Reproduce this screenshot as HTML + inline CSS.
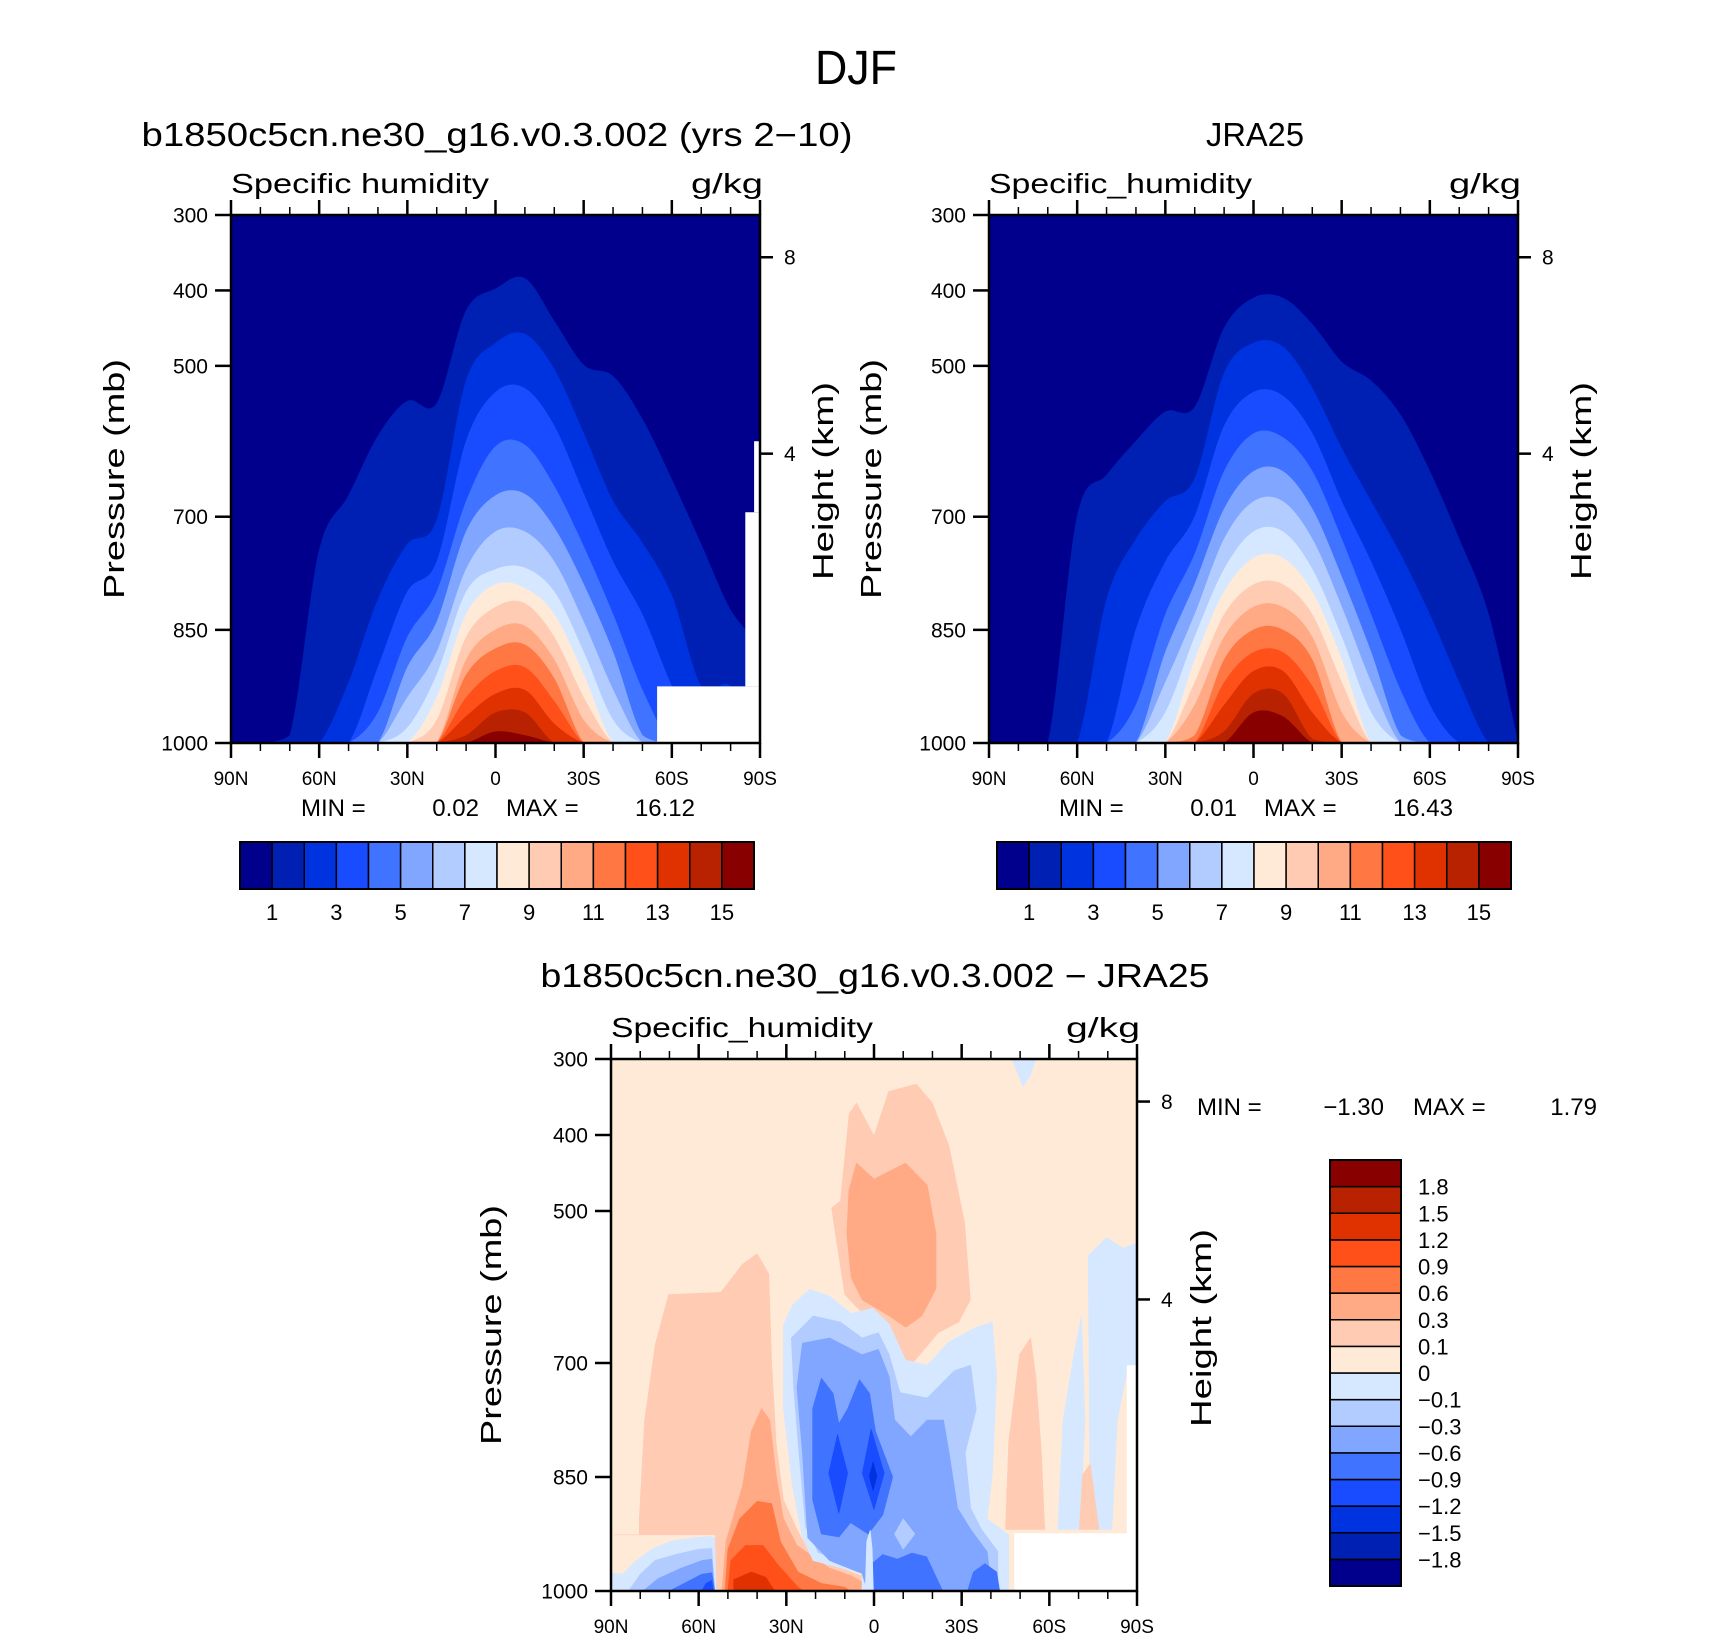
<!DOCTYPE html>
<html><head><meta charset="utf-8"><title>DJF Specific humidity</title>
<style>
html,body{margin:0;padding:0;background:#fff;}
svg{display:block;font-family:"Liberation Sans",sans-serif;}
</style></head>
<body>
<svg id="fig" width="1710" height="1636" viewBox="0 0 1710 1636" xmlns="http://www.w3.org/2000/svg">
<rect x="0" y="0" width="1710" height="1636" fill="#fff"/>
<text x="856" y="84" font-size="48" text-anchor="middle" textLength="82" lengthAdjust="spacingAndGlyphs">DJF</text>
<text x="497" y="146" font-size="33" text-anchor="middle" textLength="711" lengthAdjust="spacingAndGlyphs">b1850c5cn.ne30_g16.v0.3.002 (yrs 2−10)</text>
<text x="1255" y="146" font-size="33" text-anchor="middle" textLength="98" lengthAdjust="spacingAndGlyphs">JRA25</text>
<text x="875" y="987" font-size="33" text-anchor="middle" textLength="669" lengthAdjust="spacingAndGlyphs">b1850c5cn.ne30_g16.v0.3.002 − JRA25</text>
<g id="g-tl"></g>
<g id="g-tr"></g>
<g id="g-b"></g>
</svg>
<script>
// ---------- data ----------
const colors = ["#00008C","#0020B4","#0033E0","#1A4CFF","#4073FF","#80A6FF","#B3CCFF","#D6E8FF","#FFEAD8","#FFCBB3","#FFAA85","#FF7844","#FF501A","#E03200","#B82200","#880000"];
const lats = [90,80,70,60,50,40,30,20,10,0,-10,-20,-30,-40,-50,-60,-70,-80,-90];
const pTicks = [300,400,500,700,850,1000];
const kmTicks = [8,4];
const latMajor = [90,60,30,0,-30,-60,-90];
const latMajorLabels = ["90N","60N","30N","0","30S","60S","90S"];
const latMinor = [80,70,50,40,20,10,-10,-20,-40,-50,-70,-80];
const topBarLabels = ["1","3","5","7","9","11","13","15"];
const diffBarLabels = ["1.8","1.5","1.2","0.9","0.6","0.3","0.1","0","−0.1","−0.3","−0.6","−0.9","−1.2","−1.5","−1.8"];

const model1 = [1000,1000,990,745,672,593,547,550,427,398,384,441,499,514,571,651,737,824,870];
const model2 = [1000,1000,1000,1000,920,810,737,705,520,470,458,505,590,680,735,805,925,925,1000];
const model3 = [1000,1000,1000,1000,1000,900,800,760,600,535,530,580,670,760,830,925,1000,1000,1000];
const model4 = [1000,1000,1000,1000,1000,960,860,800,680,607,605,660,740,830,930,1000,1000,1000,1000];
const model5 = [1000,1000,1000,1000,1000,1000,900,840,720,672,670,715,790,880,990,1000,1000,1000,1000];
const model6 = [1000,1000,1000,1000,1000,1000,940,880,770,720,720,760,840,930,1000,1000,1000,1000,1000];
const model7 = [1000,1000,1000,1000,1000,1000,980,910,800,770,768,800,880,970,1000,1000,1000,1000,1000];
const model8 = [1000,1000,1000,1000,1000,1000,1000,940,830,790,795,830,910,1000,1000,1000,1000,1000,1000];
const model9 = [1000,1000,1000,1000,1000,1000,1000,970,860,820,815,860,940,1000,1000,1000,1000,1000,1000];
const model10 = [1000,1000,1000,1000,1000,1000,1000,1000,890,850,845,890,970,1000,1000,1000,1000,1000,1000];
const model11 = [1000,1000,1000,1000,1000,1000,1000,1000,910,875,870,915,1000,1000,1000,1000,1000,1000,1000];
const model12 = [1000,1000,1000,1000,1000,1000,1000,1000,940,905,900,945,1000,1000,1000,1000,1000,1000,1000];
const model13 = [1000,1000,1000,1000,1000,1000,1000,1000,965,935,930,975,1000,1000,1000,1000,1000,1000,1000];
const model14 = [1000,1000,1000,1000,1000,1000,1000,1000,990,960,960,1000,1000,1000,1000,1000,1000,1000,1000];
const model15 = [1000,1000,1000,1000,1000,1000,1000,1000,1000,985,990,1000,1000,1000,1000,1000,1000,1000,1000];
const modelMasks = [[[-55,925],[-90,925],[-90,1000],[-55,1000]],[[-85,694],[-90,694],[-90,925],[-85,925]],[[-88,600],[-90,600],[-90,694],[-88,694]]];

const obs1 = [1000,1000,1000,700,645,600,561,555,450,410,410,445,495,520,565,640,730,830,1000];
const obs2 = [1000,1000,1000,1000,810,730,680,650,510,470,475,530,610,680,750,830,920,1000,1000];
const obs3 = [1000,1000,1000,1000,1000,850,760,700,580,535,540,590,680,760,850,950,1000,1000,1000];
const obs4 = [1000,1000,1000,1000,1000,950,830,750,640,590,595,640,730,830,930,1000,1000,1000,1000];
const obs5 = [1000,1000,1000,1000,1000,1000,880,790,690,640,640,690,780,880,990,1000,1000,1000,1000];
const obs6 = [1000,1000,1000,1000,1000,1000,920,830,730,680,680,730,820,920,1000,1000,1000,1000,1000];
const obs7 = [1000,1000,1000,1000,1000,1000,960,860,770,720,720,770,860,960,1000,1000,1000,1000,1000];
const obs8 = [1000,1000,1000,1000,1000,1000,1000,890,800,755,755,800,890,1000,1000,1000,1000,1000,1000];
const obs9 = [1000,1000,1000,1000,1000,1000,1000,920,830,790,790,830,920,1000,1000,1000,1000,1000,1000];
const obs10 = [1000,1000,1000,1000,1000,1000,1000,950,860,820,820,860,960,1000,1000,1000,1000,1000,1000];
const obs11 = [1000,1000,1000,1000,1000,1000,1000,990,890,850,850,890,1000,1000,1000,1000,1000,1000,1000];
const obs12 = [1000,1000,1000,1000,1000,1000,1000,1000,920,880,880,925,1000,1000,1000,1000,1000,1000,1000];
const obs13 = [1000,1000,1000,1000,1000,1000,1000,1000,950,905,905,960,1000,1000,1000,1000,1000,1000,1000];
const obs14 = [1000,1000,1000,1000,1000,1000,1000,1000,985,935,935,995,1000,1000,1000,1000,1000,1000,1000];
const obs15 = [1000,1000,1000,1000,1000,1000,1000,1000,1000,960,965,1000,1000,1000,1000,1000,1000,1000,1000];

const diffLevels = [9,10,11,12,13,9,10,7,6,5,4,4,4,6,3,3,2,7,6,5,4,3,7,9,7,7,9,7];
const diffShapes = [
 [[89,926],[80.3,926],[80.3,905],[78.5,775],[74.8,675],[70.3,610],[52.4,607],[45,570],[40,556],[36,583],[35,700],[33.5,805],[31,880],[26.4,919],[22.7,945],[15.2,965],[4.1,980],[4.1,1000],[54.3,1000],[54.3,926]],
 [[45,862],[42,790],[38.5,760],[35.7,775],[33.5,847],[31,905],[26.4,940],[15.2,970],[7.8,980],[4.1,988],[4.1,1000],[52,1000],[50.6,934]],
 [[50,945],[46,905],[40,882],[35,885],[32,935],[26,975],[18,990],[10,995],[8,1000],[51,1000]],
 [[49,960],[44,940],[38,940],[33,965],[26,995],[24,1000],[50,1000]],
 [[48,985],[42,975],[37,982],[34,1000],[48,1000]],
 [[11.5,487],[8.5,372],[6,358],[0,401],[-5,343],[-14.5,333],[-20,358],[-25.7,415],[-31,516],[-33,617],[-29,646],[-22,660],[-12.6,703],[-5,675],[0,650],[10,610],[12.6,545],[14.5,496]],
 [[8.6,473],[6,437],[0,458],[-10.8,437],[-18.2,466],[-21.2,530],[-21.2,602],[-16.4,638],[-10.8,653],[-5.2,638],[4,617],[7.8,588],[9.3,530]],
 [[31,650],[27.8,623],[22,603],[15.2,612],[7.8,635],[0.4,628],[-5.2,649],[-10.8,696],[-18.2,703],[-25.7,672],[-35,653],[-40.5,646],[-42,718],[-40.5,847],[-38.7,905],[-46.1,926],[-46.1,1000],[4.1,1000],[4.1,977],[20.8,960],[24.5,930],[28,860],[31,760]],
 [[28.3,667],[20.8,638],[11.5,646],[4.1,667],[-1.5,660],[-5.2,689],[-8.9,739],[-18.2,746],[-27.5,710],[-33.1,703],[-35,761],[-31.2,818],[-33.1,891],[-36.8,919],[-42.4,948],[-42.4,1000],[2.2,1000],[4.1,962],[19,950],[23.4,915],[25.7,818],[27.5,732]],
 [[24.5,674],[15.2,667],[4.1,689],[-1.5,682],[-5.2,718],[-7.1,775],[-12.6,797],[-18.2,775],[-23.8,775],[-25.7,818],[-28.6,891],[-33.1,919],[-38.7,948],[-40.5,1000],[2.2,1000],[4.1,977],[15.2,960],[22.7,930],[24.5,818],[26.4,732]],
 [[21,760],[18,720],[14,740],[12,780],[9,760],[5,722],[1.5,740],[-0.5,790],[-6.4,850],[-3,900],[2,925],[8,910],[12,929],[18,925],[21,880]],
 [[1,1000],[1,965],[-3,952],[-8,958],[-13,950],[-18,955],[-23.5,1000]],
 [[-32,1000],[-34,975],[-38,964],[-42,975],[-43,1000]],
 [[-7,925],[-10,905],[-14,925],[-10,945]],
 [[12.5,794],[9,845],[12,898],[15.5,845]],
 [[1,787],[-3.5,845],[0,893],[4,845]],
 [[0.3,830],[-1,849],[0.3,868],[1.6,849]],
 [[90,976],[86,978],[82,962],[76,945],[70,935],[62,930],[56,928],[54.5,930],[54,1000],[90,1000]],
 [[84,1000],[80,978],[75,960],[68,952],[60,945],[55.5,944],[54.5,1000]],
 [[79,1000],[74,984],[66,970],[59,960],[55.5,958],[54.5,1000]],
 [[70,1000],[64,988],[59,978],[55.5,976],[54.5,1000]],
 [[59,1000],[57.5,990],[55.5,986],[55,1000]],
 [[3,1000],[2.5,935],[1.3,920],[0.6,945],[0.2,1000]],
 [[-45,919],[-46.1,804],[-49.8,689],[-53.6,667],[-55.4,718],[-57.3,818],[-58.4,919]],
 [[-74,919],[-73.3,559],[-79.6,535],[-85.2,549],[-90,542],[-90,703],[-87,703],[-83.3,775],[-81.4,919]],
 [[-62.9,919],[-64.7,775],[-68.4,689],[-71,638],[-72.2,775],[-70.5,919]],
 [[-70.3,919],[-71.4,847],[-74,833],[-77,919]],
 [[-47.2,300],[-55.4,300],[-53.5,322],[-51,336]]
];
const diffMasks = [[[-48,924],[-90,924],[-90,1000],[-48,1000]],[[-86.5,703],[-90,703],[-90,924],[-86.5,924]]];

// ---------- drawing ----------
const NS = "http://www.w3.org/2000/svg";
function mk(parent, tag, attrs, txt){
  const e = document.createElementNS(NS, tag);
  for (const k in attrs) e.setAttribute(k, attrs[k]);
  if (txt !== undefined) e.textContent = txt;
  parent.appendChild(e);
  return e;
}
function xs(P, lat){ return P.x0 + (90 - lat) / 180 * (P.x1 - P.x0); }
function ys(P, p){ return P.y0 + (p - 300) / 700 * (P.y1 - P.y0); }
function kmToP(z){ return 1013.25 * Math.pow(1 - 2.25577e-5 * z * 1000, 5.25588); }
function ptsStr(P, arr){ return arr.map(v => xs(P, v[0]).toFixed(1) + "," + ys(P, v[1]).toFixed(1)).join(" "); }
function clampY(P, y){ return Math.max(P.y0, Math.min(P.y1, y)); }
function smoothPath(P, pts){
  const q = pts.map(v => [xs(P, v[0]), ys(P, v[1])]);
  let d = "M" + q[0][0].toFixed(1) + "," + q[0][1].toFixed(1);
  for (let i = 0; i < q.length - 1; i++){
    const p0 = q[Math.max(0, i-1)], p1 = q[i], p2 = q[i+1], p3 = q[Math.min(q.length-1, i+2)];
    const c1x = p1[0] + (p2[0]-p0[0])/6, c1y = clampY(P, p1[1] + (p2[1]-p0[1])/6);
    const c2x = p2[0] - (p3[0]-p1[0])/6, c2y = clampY(P, p2[1] - (p3[1]-p1[1])/6);
    d += " C" + c1x.toFixed(1) + "," + c1y.toFixed(1) + " " + c2x.toFixed(1) + "," + c2y.toFixed(1) + " " + p2[0].toFixed(1) + "," + p2[1].toFixed(1);
  }
  d += " L" + xs(P,-90).toFixed(1) + "," + ys(P,1000).toFixed(1) + " L" + xs(P,90).toFixed(1) + "," + ys(P,1000).toFixed(1) + " Z";
  return d;
}

function drawAxes(g, P, titleLeft, titleRight, pAxisX, kmAxisX, kmAxisY){
  let e;
  e = mk(g, "rect", {x:P.x0, y:P.y0, width:P.x1-P.x0, height:P.y1-P.y0, fill:"none", stroke:"#000", "stroke-width":2.5});
  
  
  latMajor.forEach((lat, i) => {
    const x = xs(P, lat);
    e = mk(g, "line", {x1:x, y1:P.y1, x2:x, y2:P.y1+15, stroke:"#000", "stroke-width":2.5});
    
    
    e = mk(g, "line", {x1:x, y1:P.y0, x2:x, y2:P.y0-15, stroke:"#000", "stroke-width":2.5});
    
    
    e = mk(g, "text", {x:x, y:P.y1+42, "font-size":19, "text-anchor":"middle"}, latMajorLabels[i]);
    
    
  });
  latMinor.forEach(lat => {
    const x = xs(P, lat);
    e = mk(g, "line", {x1:x, y1:P.y1, x2:x, y2:P.y1+8, stroke:"#000", "stroke-width":1.5});
    
    
    e = mk(g, "line", {x1:x, y1:P.y0, x2:x, y2:P.y0-8, stroke:"#000", "stroke-width":1.5});
    
    
  });
  pTicks.forEach(p => {
    const y = ys(P, p);
    e = mk(g, "line", {x1:P.x0-16, y1:y, x2:P.x0, y2:y, stroke:"#000", "stroke-width":2.5});
    
    
    e = mk(g, "text", {x:P.x0-23, y:y+7.5, "font-size":21, "text-anchor":"end"}, String(p));
    
    
  });
  kmTicks.forEach(z => {
    const y = ys(P, kmToP(z));
    e = mk(g, "line", {x1:P.x1, y1:y, x2:P.x1+13, y2:y, stroke:"#000", "stroke-width":2.5});
    
    
    e = mk(g, "text", {x:P.x1+24, y:y+7.5, "font-size":21}, String(z));
    
    
  });
  e = mk(g, "text", {x:P.x0, y:P.y0-22, "font-size":28, textLength:titleLeft[1], lengthAdjust:"spacingAndGlyphs"}, titleLeft[0]);
  
  
  e = mk(g, "text", {x:P.x1+3, y:P.y0-22, "font-size":28, "text-anchor":"end", textLength:titleRight, lengthAdjust:"spacingAndGlyphs"}, "g/kg");
  
  
  const cy = (P.y0 + P.y1) / 2;
  e = mk(g, "text", {x:pAxisX, y:cy, "font-size":29, "text-anchor":"middle", transform:"rotate(-90 "+pAxisX+" "+cy+")", textLength:240, lengthAdjust:"spacingAndGlyphs"}, "Pressure (mb)");
  
  
  e = mk(g, "text", {x:kmAxisX, y:kmAxisY, "font-size":29, "text-anchor":"middle", transform:"rotate(-90 "+kmAxisX+" "+kmAxisY+")", textLength:198, lengthAdjust:"spacingAndGlyphs"}, "Height (km)");
  
  
}

function topPanel(gid, P, levels, masks, minV, maxV, barX){
  const g = document.getElementById(gid);
  let e;
  e = mk(g, "rect", {x:P.x0, y:P.y0, width:P.x1-P.x0, height:P.y1-P.y0, fill:colors[0]});
  
  
  levels.forEach((arr, k) => {
    const pts = lats.map((lat, i) => [lat, arr[i]]);
    e = mk(g, "path", {d:smoothPath(P, pts), fill:colors[k+1], stroke:colors[k+1], "stroke-width":0.6});
    
    
  });
  masks.forEach(m => {
    e = mk(g, "polygon", {points:ptsStr(P, m), fill:"#fff"});
    
    
  });
  e = mk(g, "text", {x:P.x0+70, y:816, "font-size":24}, "MIN =");
  
  
  e = mk(g, "text", {x:P.x0+248, y:816, "font-size":24, "text-anchor":"end"}, minV);
  
  
  e = mk(g, "text", {x:P.x0+275, y:816, "font-size":24}, "MAX =");
  
  
  e = mk(g, "text", {x:P.x0+464, y:816, "font-size":24, "text-anchor":"end"}, maxV);
  
  
  const bw = 514 / 16;
  colors.forEach((c, i) => {
    e = mk(g, "rect", {x:barX + i*bw, y:842, width:bw, height:47, fill:c, stroke:"#000", "stroke-width":1.5});
    
    
  });
  e = mk(g, "rect", {x:barX, y:842, width:514, height:47, fill:"none", stroke:"#000", "stroke-width":2});
  
  
  topBarLabels.forEach((t, j) => {
    e = mk(g, "text", {x:barX + (2*j+1)*bw, y:920, "font-size":22, "text-anchor":"middle"}, t);
    
    
  });
}

const P_TL = {x0:231, x1:760, y0:215, y1:743};
const P_TR = {x0:989, x1:1518, y0:215, y1:743};
const P_B  = {x0:611, x1:1137, y0:1059, y1:1591};

topPanel("g-tl", P_TL, [model1,model2,model3,model4,model5,model6,model7,model8,model9,model10,model11,model12,model13,model14,model15], modelMasks, "0.02", "16.12", 240);
drawAxes(document.getElementById("g-tl"), P_TL, ["Specific humidity",258], 72, 124, 833, 481);
topPanel("g-tr", P_TR, [obs1,obs2,obs3,obs4,obs5,obs6,obs7,obs8,obs9,obs10,obs11,obs12,obs13,obs14,obs15], [], "0.01", "16.43", 997);
drawAxes(document.getElementById("g-tr"), P_TR, ["Specific_humidity",263], 72, 881, 1591, 481);

(function(){
  const g = document.getElementById("g-b");
  const P = P_B;
  let e;
  e = mk(g, "rect", {x:P.x0, y:P.y0, width:P.x1-P.x0, height:P.y1-P.y0, fill:colors[8]});
  
  
  diffShapes.forEach((shape, i) => {
    const c = colors[diffLevels[i]];
    e = mk(g, "polygon", {points:ptsStr(P, shape), fill:c, stroke:c, "stroke-width":0.6, "stroke-linejoin":"round"});
    
    
  });
  diffMasks.forEach(m => {
    e = mk(g, "polygon", {points:ptsStr(P, m), fill:"#fff"});
    
    
  });
  drawAxes(g, P, ["Specific_humidity",262], 74, 501, 1211, 1328);
  e = mk(g, "text", {x:1197, y:1115, "font-size":24}, "MIN =");
  
  
  e = mk(g, "text", {x:1384, y:1115, "font-size":24, "text-anchor":"end"}, "−1.30");
  
  
  e = mk(g, "text", {x:1413, y:1115, "font-size":24}, "MAX =");
  
  
  e = mk(g, "text", {x:1597, y:1115, "font-size":24, "text-anchor":"end"}, "1.79");
  
  
  const bx = 1330, by = 1160, bwid = 71, bh = 426 / 16;
  colors.forEach((c, i) => {
    e = mk(g, "rect", {x:bx, y:by + (15 - i)*bh, width:bwid, height:bh, fill:c, stroke:"#000", "stroke-width":1.5});
    
    
  });
  e = mk(g, "rect", {x:bx, y:by, width:bwid, height:426, fill:"none", stroke:"#000", "stroke-width":2});
  
  
  diffBarLabels.forEach((t, j) => {
    e = mk(g, "text", {x:1418, y:by + (j+1)*bh + 8, "font-size":22}, t);
    
    
  });
})();
</script>
</body></html>
